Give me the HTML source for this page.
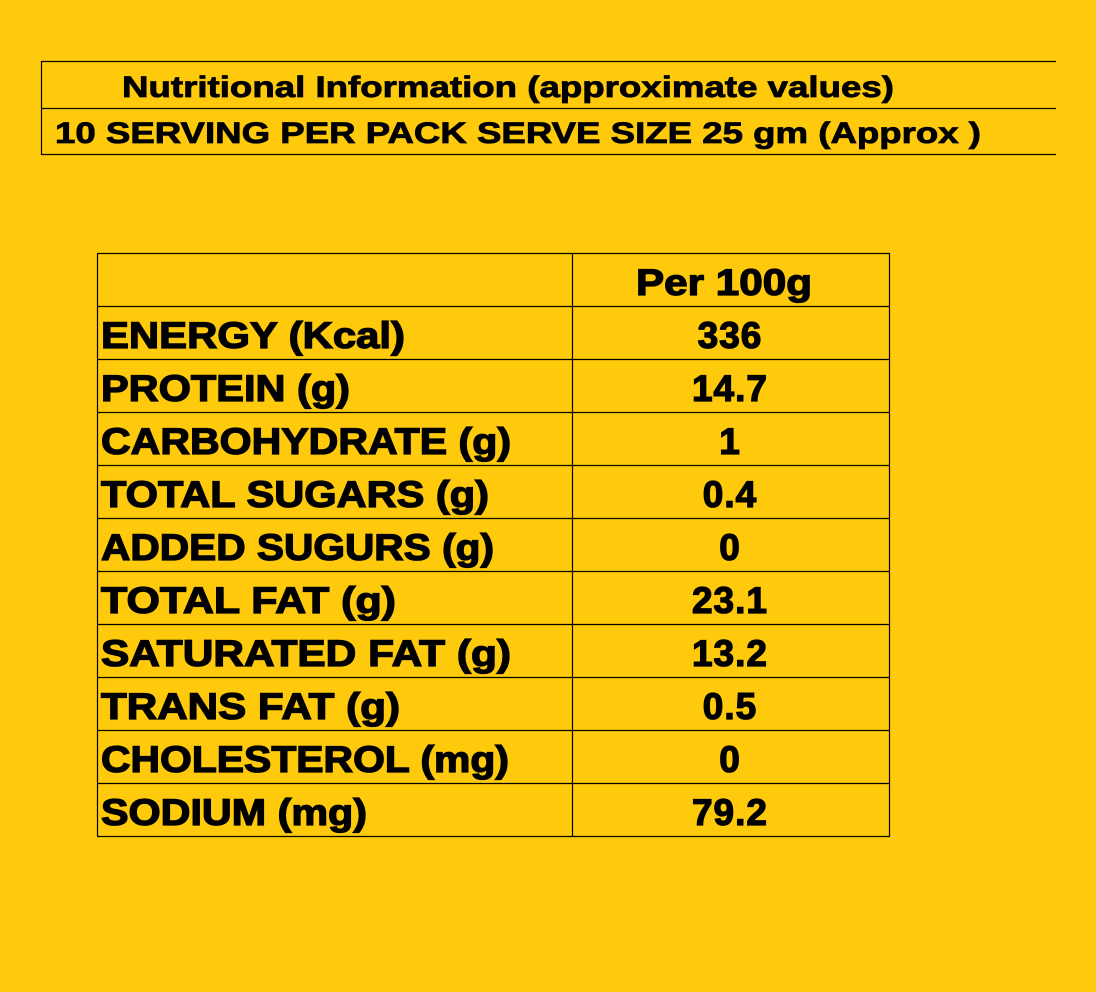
<!DOCTYPE html>
<html><head><meta charset="utf-8"><style>
html,body{margin:0;padding:0;background:#FFCA0C;}
svg{display:block}
text{font-family:"Liberation Sans",Arial,sans-serif;font-weight:bold;fill:#000;stroke:#000;stroke-width:1.3px}
</style></head><body>
<svg width="1096" height="992" viewBox="0 0 1096 992">
<rect width="1096" height="992" fill="#FFCA0C"/>
<g stroke="#000" stroke-width="1.2">
<line x1="41" y1="61.5" x2="1056" y2="61.5"/>
<line x1="41" y1="108.5" x2="1056" y2="108.5"/>
<line x1="41" y1="154.5" x2="1056" y2="154.5"/>
<line x1="41.5" y1="61" x2="41.5" y2="155"/>
</g>
<text x="122" y="97" font-size="30" textLength="772" lengthAdjust="spacingAndGlyphs" style="stroke-width:0.8px">Nutritional Information (approximate values)</text>
<text x="55" y="143" font-size="30" textLength="926" lengthAdjust="spacingAndGlyphs" style="stroke-width:0.8px">10 SERVING PER PACK  SERVE SIZE 25 gm (Approx )</text>
<g id="tbl"></g>
</svg>
<script>
const labels=["ENERGY (Kcal)","PROTEIN (g)","CARBOHYDRATE (g)","TOTAL SUGARS (g)","ADDED SUGURS (g)","TOTAL FAT (g)","SATURATED FAT (g)","TRANS FAT (g)","CHOLESTEROL (mg)","SODIUM (mg)"];
const values=["336","14.7","1","0.4","0","23.1","13.2","0.5","0","79.2"];
const labelW=[304,249,410,388,393,295,410,299,408,266];
const NS="http://www.w3.org/2000/svg";
const g=document.getElementById('tbl');
const x0=97.5,x1=889.5,xm=572.5,y0=253.5,rh=53;
const n=labels.length;
function ln(a,b,c,d){const l=document.createElementNS(NS,'line');l.setAttribute('x1',a);l.setAttribute('y1',b);l.setAttribute('x2',c);l.setAttribute('y2',d);l.setAttribute('stroke','#000');l.setAttribute('stroke-width','1.2');


g.appendChild(l);}
for(let i=0;i<=n+1;i++)ln(x0-0.5,y0+i*rh,x1+0.5,y0+i*rh);
ln(x0,y0,x0,y0+(n+1)*rh);ln(xm,y0,xm,y0+(n+1)*rh);ln(x1,y0,x1,y0+(n+1)*rh);
function txt(s,x,y,anchor,w){const t=document.createElementNS(NS,'text');t.setAttribute('x',x);t.setAttribute('y',y);t.setAttribute('font-size','37');if(anchor)t.setAttribute('text-anchor',anchor);if(w){t.setAttribute('textLength',w);t.setAttribute('lengthAdjust','spacingAndGlyphs');}t.textContent=s;g.appendChild(t);return t;}
const h=txt("Per 100g",724,y0+41.5,'middle',176);


for(let i=0;i<n;i++){
 const ty=y0+(i+1)*rh+41.5;
 const a=txt(labels[i],101,ty,null,labelW[i]);
 
 
 const b=txt(values[i],730,ty,'middle',null);
 
 
 b.style.letterSpacing='1px';
}
</script>
</body></html>
